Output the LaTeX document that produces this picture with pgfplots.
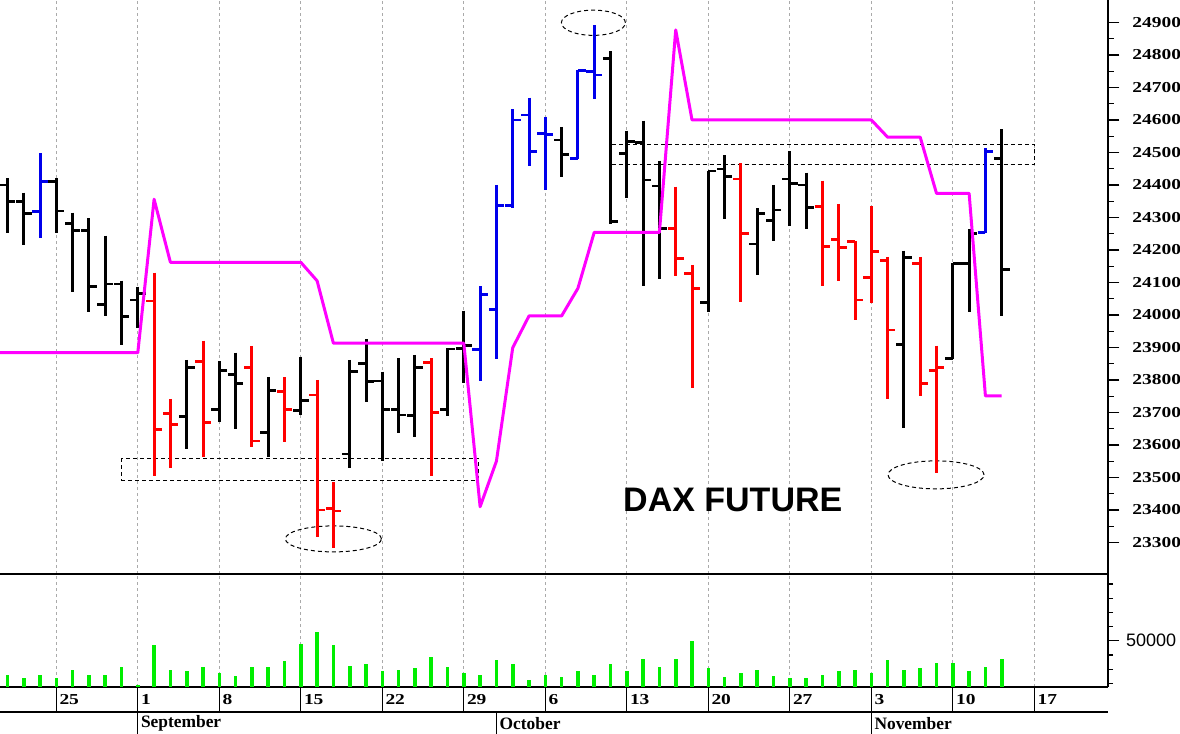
\documentclass[border=0pt]{standalone}
\usepackage{fontspec}
\setmainfont{Liberation Serif}
\newfontfamily\arialfont{Liberation Sans}
\newfontfamily\tickfont[FakeStretch=1.28]{Liberation Serif}
\usepackage{pgfplots}
\usepackage{pgfplotstable}
\pgfplotsset{compat=1.18}

\definecolor{barred}{RGB}{255,0,0}
\definecolor{barblue}{RGB}{0,0,235}
\definecolor{magline}{RGB}{255,0,255}
\definecolor{volgreen}{RGB}{0,238,0}
\definecolor{gridgray}{RGB}{170,170,170}

\pgfplotstableread{
i o h l c
-8 24400 24420 24253 24349
-7 24349 24376 24215 24311
-5 24410 24420 24253 24320
-4 24282 24315 24072 24259
-3 24259 24297 24008 24087
-2 24033 24244 23998 24095
-1 24095 24106 23908 23995
0 24046 24087 23959 24067
3 23687 23862 23587 23838
5 23708 23857 23672 23828
6 23818 23884 23649 23790
8 23638 23808 23564 23767
10 23706 23872 23692 23736
13 23572 23862 23530 23826
14 23851 23926 23733 23795
15 23797 23826 23552 23708
16 23708 23867 23636 23692
17 23690 23877 23626 23838
19 23710 23897 23689 23895
20 23897 24013 23790 23905
26 24538 24579 24424 24494
29 24788 24812 24280 24287
30 24497 24567 24359 24533
31 24530 24598 24089 24415
32 24397 24475 24111 24265
35 24038 24443 24010 24443
36 24449 24492 24295 24426
38 24218 24328 24123 24313
39 24290 24400 24226 24323
40 24418 24503 24274 24405
41 24400 24438 24265 24331
47 23908 24198 23651 24177
50 23867 24161 23864 24159
51 24159 24264 24010 24251
53 24482 24571 23997 24141
}\blackbars

\pgfplotstableread{
i o h l c
1 24043 24130 23505 23648
2 23697 23742 23530 23662
4 23857 23921 23564 23669
7 23838 23905 23595 23612
9 23764 23808 23610 23710
11 23754 23800 23318 23400
12 23405 23485 23282 23397
18 23854 23867 23505 23700
33 24266 24395 24121 24173
34 24128 24154 23775 24081
37 24418 24467 24041 24251
42 24333 24413 24090 24210
43 24231 24342 24106 24208
44 24226 24228 23983 24046
45 24115 24334 24038 24195
46 24167 24179 23741 23954
48 24159 24179 23751 23790
49 23829 23906 23513 23838
}\redbars

\pgfplotstableread{
i o h l c
-6 24318 24497 24238 24410
21 23894 24089 23797 24062
22 24017 24400 23864 24336
23 24336 24633 24330 24600
24 24615 24669 24459 24503
25 24559 24610 24383 24556
27 24482 24754 24479 24752
28 24749 24892 24665 24738
52 24253 24513 24251 24503
}\bluebars

\pgfplotstableread{
i m
-8.5 23884
-8 23884
-7 23884
-6 23884
-5 23884
-4 23884
-3 23884
-2 23884
-1 23884
0 23884
1 24356
2 24162
3 24162
4 24162
5 24162
6 24162
7 24162
8 24162
9 24162
10 24162
11 24105
12 23913
13 23913
14 23913
15 23913
16 23913
17 23913
18 23913
19 23913
20 23913
21 23410
22 23550
23 23899
24 23997
25 23997
26 23997
27 24082
28 24254
29 24254
30 24254
31 24254
32 24254
33 24877
34 24600
35 24600
36 24600
37 24600
38 24600
39 24600
40 24600
41 24600
42 24600
43 24600
44 24600
45 24600
46 24547
47 24547
48 24547
49 24374
50 24374
51 24374
52 23751
53 23751
}\magtable

\pgfplotstableread{
i v
-8 26200
-7 23400
-6 26200
-5 23400
-4 29500
-3 26200
-2 26200
-1 31200
0 18700
1 46700
2 29500
3 28400
4 31200
5 27200
6 25300
7 31200
8 31200
9 35600
10 47600
11 55900
12 46700
13 32400
14 33300
15 28600
16 29500
17 30500
18 38200
19 31200
20 27200
21 26200
22 36400
23 33300
24 22200
25 26200
26 24100
27 28400
28 26200
29 33300
30 28400
31 37300
32 31200
33 37300
34 49500
35 30500
36 24100
37 27400
38 29300
39 25300
40 23400
41 23400
42 26200
43 28400
44 29300
45 27200
46 36400
47 29500
48 30500
49 34500
50 34200
51 28400
52 31200
53 37300
}\voltable

\pgfplotsset{
  nomark/.style={draw=none, mark=none, forget plot},
  hlbar/.style={nomark,
    error bars/y dir=minus, error bars/y explicit,
    error bars/error mark=none,
    error bars/error bar style={line width=1.5pt, draw=#1}},
  openbar/.style={nomark,
    error bars/x dir=minus, error bars/x fixed=0.48,
    error bars/error mark=none,
    error bars/error bar style={line width=1.4pt, draw=#1}},
  closebar/.style={nomark,
    error bars/x dir=plus, error bars/x fixed=0.48,
    error bars/error mark=none,
    error bars/error bar style={line width=1.4pt, draw=#1}},
  gridstyle/.style={major grid style={gridgray, line width=0.5pt, dash pattern=on 1.5pt off 1.5pt}},
}
\tikzset{
  dashbox/.style={black, line width=0.5pt, dash pattern=on 2pt off 1.5pt},
  datelab/.style={anchor=west, inner sep=0pt, xshift=1.4pt, font=\tickfont\bfseries\fontsize{7.6}{7.6}\selectfont},
  monthlab/.style={anchor=west, inner sep=0pt, xshift=1.4pt, font=\bfseries\fontsize{8.7}{8.7}\selectfont},
}

\begin{document}
\begin{tikzpicture}
\useasboundingbox (0pt,0pt) rectangle (590pt,-367pt);
% ---------- price panel ----------
\begin{axis}[
  at={(0pt,0pt)}, anchor=north west, scale only axis,
  width=554pt, height=287pt,
  xmin=-8.454, xmax=59.52, ymin=23203, ymax=24969,
  axis x line*=bottom, axis y line*=right,
  axis line style={-, line width=0.6pt, black},
  xtick={-5,0,...,55}, xticklabels={},
  x tick style={draw=none},
  xmajorgrids, gridstyle,
  ytick={23300,23400,...,24900},
  minor y tick num=1,
  y tick style={black, line width=0.6pt},
  tick align=outside,
  major tick length=5.7pt, minor tick length=2.9pt,
  scaled y ticks=false,
  /pgf/number format/1000 sep={},
  /pgf/number format/assume math mode=true,
  yticklabel style={font=\tickfont\bfseries\fontsize{7.6}{8}\selectfont, xshift=3pt},
]
\draw[dashbox] (axis cs:-0.97,23559) rectangle (axis cs:20.9,23492);
\draw[dashbox] (axis cs:29.0,24525) rectangle (axis cs:55.0,24464);
\draw[dashbox] (axis cs:12.0,23311) ellipse [x radius=24pt, y radius=6.5pt];
\draw[dashbox] (axis cs:27.95,24899) ellipse [x radius=16pt, y radius=6.3pt];
\draw[dashbox] (axis cs:48.97,23508) ellipse [x radius=24pt, y radius=7pt];

\addplot[hlbar=black] table[x=i, y=h, y error expr=\thisrow{h}-\thisrow{l}] {\blackbars};
\addplot[openbar=black] table[x=i, y=o] {\blackbars};
\addplot[closebar=black] table[x=i, y=c] {\blackbars};
\addplot[hlbar=barred] table[x=i, y=h, y error expr=\thisrow{h}-\thisrow{l}] {\redbars};
\addplot[openbar=barred] table[x=i, y=o] {\redbars};
\addplot[closebar=barred] table[x=i, y=c] {\redbars};
\addplot[hlbar=barblue] table[x=i, y=h, y error expr=\thisrow{h}-\thisrow{l}] {\bluebars};
\addplot[openbar=barblue] table[x=i, y=o] {\bluebars};
\addplot[closebar=barblue] table[x=i, y=c] {\bluebars};

\addplot[magline, line width=1.5pt, mark=none, line join=round] table[x=i, y=m] {\magtable};

\node[font=\arialfont\bfseries\fontsize{17}{17}\selectfont] at (axis cs:36.5,23431) {DAX FUTURE};
\end{axis}
% ---------- volume panel ----------
\begin{axis}[
  at={(0pt,-287pt)}, anchor=north west, scale only axis,
  width=554pt, height=56.5pt,
  xmin=-8.454, xmax=59.52, ymin=17400, ymax=97000,
  axis x line*=bottom, axis y line*=right,
  axis line style={-, line width=0.6pt, black},
  xtick={-5,0,...,55}, xticklabels={}, x tick style={draw=none},
  xmajorgrids, gridstyle,
  ytick={50000}, yticklabels={50000},
  scaled y ticks=false,
  extra y ticks={20000,30000,40000,60000,70000,80000,90000},
  extra y tick labels={},
  extra y tick style={major tick length=2.5pt},
  tick align=outside, major tick length=5.5pt,
  y tick style={black, line width=0.6pt},
  yticklabel style={font=\arialfont\fontsize{9}{9}\selectfont},
]
\addplot[ycomb, volgreen, line width=1.8pt, mark=none] table[x=i, y=v] {\voltable};
\end{axis}
% ---------- date rows ----------
\begin{axis}[
  at={(0pt,-343.5pt)}, anchor=north west, scale only axis,
  width=554pt, height=23.5pt,
  xmin=-8.454, xmax=59.52, ymin=0, ymax=47, hide axis, clip=false,
]
\draw[line width=0.6pt] (axis cs:-8.454,22) -- (axis cs:59.52,22);
\draw[line width=0.6pt] (axis cs:-5,22) -- (axis cs:-5,47);
\draw[line width=0.6pt] (axis cs:0,22) -- (axis cs:0,47);
\draw[line width=0.6pt] (axis cs:5,22) -- (axis cs:5,47);
\draw[line width=0.6pt] (axis cs:10,22) -- (axis cs:10,47);
\draw[line width=0.6pt] (axis cs:15,22) -- (axis cs:15,47);
\draw[line width=0.6pt] (axis cs:20,22) -- (axis cs:20,47);
\draw[line width=0.6pt] (axis cs:25,22) -- (axis cs:25,47);
\draw[line width=0.6pt] (axis cs:30,22) -- (axis cs:30,47);
\draw[line width=0.6pt] (axis cs:35,22) -- (axis cs:35,47);
\draw[line width=0.6pt] (axis cs:40,22) -- (axis cs:40,47);
\draw[line width=0.6pt] (axis cs:45,22) -- (axis cs:45,47);
\draw[line width=0.6pt] (axis cs:50,22) -- (axis cs:50,47);
\draw[line width=0.6pt] (axis cs:55,22) -- (axis cs:55,47);
\node[datelab] at (axis cs:-5,34.5) {25};
\node[datelab] at (axis cs:0,34.5) {1};
\node[datelab] at (axis cs:5,34.5) {8};
\node[datelab] at (axis cs:10,34.5) {15};
\node[datelab] at (axis cs:15,34.5) {22};
\node[datelab] at (axis cs:20,34.5) {29};
\node[datelab] at (axis cs:25,34.5) {6};
\node[datelab] at (axis cs:30,34.5) {13};
\node[datelab] at (axis cs:35,34.5) {20};
\node[datelab] at (axis cs:40,34.5) {27};
\node[datelab] at (axis cs:45,34.5) {3};
\node[datelab] at (axis cs:50,34.5) {10};
\node[datelab] at (axis cs:55,34.5) {17};
\draw[line width=0.6pt] (axis cs:0,0) -- (axis cs:0,22);
\draw[line width=0.6pt] (axis cs:22,0) -- (axis cs:22,22);
\draw[line width=0.6pt] (axis cs:45,0) -- (axis cs:45,22);
\node[monthlab] at (axis cs:0,10.5) {September};
\node[monthlab] at (axis cs:22,10.5) {October};
\node[monthlab] at (axis cs:45,10.5) {November};
\end{axis}
\end{tikzpicture}
\end{document}
